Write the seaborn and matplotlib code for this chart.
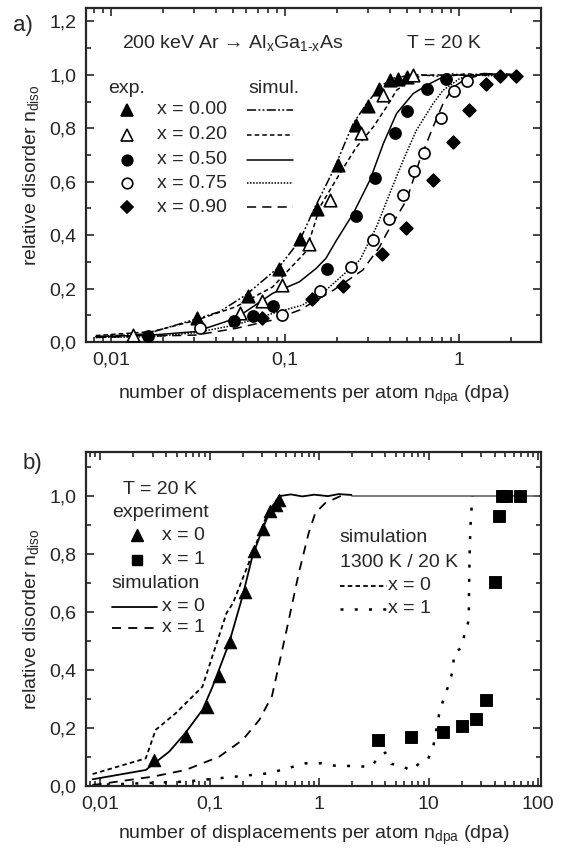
import numpy as np
import pandas as pd
import matplotlib
matplotlib.use("Agg")
import matplotlib.pyplot as plt
from matplotlib.ticker import FixedLocator, FixedFormatter, LogLocator, NullFormatter, MultipleLocator
from matplotlib.lines import Line2D
import seaborn as sns

# ---------------- panel a: experiment ----------------
exp_x000_dpa = [0.0311, 0.061, 0.0927, 0.122, 0.152, 0.203, 0.256, 0.301, 0.348, 0.401, 0.448, 0.50]
exp_x000_dis = [0.089, 0.172, 0.275, 0.384, 0.496, 0.664, 0.811, 0.882, 0.948, 0.982, 0.986, 0.99]
exp_x020_dpa = [0.0134, 0.0551, 0.0735, 0.0957, 0.138, 0.181, 0.273, 0.367, 0.546]
exp_x020_dis = [0.026, 0.107, 0.154, 0.213, 0.365, 0.531, 0.782, 0.923, 1.0]
exp_x050_dpa = [0.0164, 0.0512, 0.0658, 0.085, 0.174, 0.256, 0.329, 0.429, 0.50, 0.652, 0.841]
exp_x050_dis = [0.022, 0.080, 0.097, 0.135, 0.272, 0.471, 0.614, 0.782, 0.864, 0.948, 0.986]
exp_x075_dpa = [0.0325, 0.0957, 0.16, 0.239, 0.322, 0.398, 0.479, 0.553, 0.632, 0.788, 0.936, 1.107]
exp_x075_dis = [0.051, 0.101, 0.191, 0.279, 0.381, 0.46, 0.55, 0.639, 0.709, 0.84, 0.939, 0.976]
exp_x090_dpa = [0.0735, 0.144, 0.216, 0.359, 0.496, 0.711, 0.92, 1.146, 1.43, 1.72, 2.13]
exp_x090_dis = [0.089, 0.16, 0.209, 0.329, 0.427, 0.608, 0.749, 0.87, 0.967, 0.996, 0.996]

# ---------------- panel a: simulation ----------------
sim_x000_dpa = [0.0082, 0.0159, 0.0295, 0.042, 0.0597, 0.093, 0.122, 0.146, 0.19, 0.247, 0.295, 0.351, 0.41, 0.52,
                0.6, 0.75, 0.9, 1.1, 1.4, 1.8, 2.2]
sim_x000_dis = [0.02, 0.03, 0.082, 0.113, 0.176, 0.282, 0.381, 0.493, 0.643, 0.818, 0.892, 0.954, 0.986, 0.998,
                1.0, 0.995, 1.004, 0.997, 1.005, 1.0, 1.003]
sim_x020_dpa = [0.0082, 0.0173, 0.0308, 0.0523, 0.085, 0.132, 0.159, 0.207, 0.258, 0.322, 0.384, 0.438, 0.52, 0.62,
                0.75, 0.9, 1.1, 1.4, 1.8, 2.2]
sim_x020_dis = [0.024, 0.039, 0.081, 0.132, 0.206, 0.338, 0.506, 0.631, 0.73, 0.805, 0.88, 0.942, 0.979, 0.998,
                1.0, 0.996, 1.004, 0.998, 1.003, 1.0]
sim_x050_dpa = [0.0082, 0.0173, 0.0308, 0.0523, 0.085, 0.121, 0.151, 0.172, 0.198, 0.247, 0.308, 0.368, 0.438, 0.546,
                0.68, 0.81, 0.95, 1.2, 1.5, 1.9, 2.2]
sim_x050_dis = [0.02, 0.026, 0.039, 0.089, 0.182, 0.225, 0.275, 0.313, 0.381, 0.481, 0.606, 0.743, 0.855, 0.93,
                0.967, 0.992, 1.0, 0.996, 1.004, 0.998, 1.002]
sim_x075_dpa = [0.0082, 0.0173, 0.0308, 0.0523, 0.085, 0.126, 0.172, 0.27, 0.336, 0.40, 0.478, 0.57, 0.71, 0.81,
                1.01, 1.2, 1.5, 1.8, 2.2]
sim_x075_dis = [0.017, 0.02, 0.035, 0.064, 0.107, 0.138, 0.194, 0.307, 0.431, 0.556, 0.68, 0.793, 0.892, 0.942,
                0.986, 1.0, 0.996, 1.003, 1.0]
sim_x090_dpa = [0.0082, 0.0308, 0.0523, 0.085, 0.122, 0.19, 0.28, 0.35, 0.384, 0.50, 0.595, 0.71, 0.81, 0.93,
                1.06, 1.3, 1.6, 2.0, 2.2]
sim_x090_dis = [0.017, 0.026, 0.051, 0.082, 0.12, 0.194, 0.269, 0.356, 0.406, 0.531, 0.68, 0.805, 0.892, 0.954,
                0.979, 0.998, 1.003, 0.997, 1.0]

# ---------------- panel b: experiment ----------------
expb_x0_dpa = [0.031, 0.0604, 0.0933, 0.122, 0.152, 0.21, 0.254, 0.307, 0.356, 0.40, 0.43]
expb_x0_dis = [0.09, 0.172, 0.273, 0.379, 0.495, 0.667, 0.81, 0.885, 0.946, 0.969, 0.986]
expb_x1_dpa = [3.44, 6.85, 13.5, 20.3, 26.9, 33.6, 40.6, 43.9, 47.1, 51.3, 67.8]
expb_x1_dis = [0.159, 0.170, 0.185, 0.207, 0.23, 0.297, 0.701, 0.929, 1.0, 1.0, 1.0]

# ---------------- panel b: simulation, 20 K ----------------
simb_x0_dpa = [0.0085, 0.026, 0.0425, 0.06, 0.0857, 0.106, 0.15, 0.199, 0.245, 0.302, 0.36, 0.43,
               0.55, 0.7, 0.9, 1.2, 1.5, 1.97]
simb_x0_dis = [0.023, 0.055, 0.118, 0.183, 0.262, 0.342, 0.492, 0.653, 0.791, 0.883, 0.952, 0.998,
               1.004, 0.997, 1.003, 0.998, 1.005, 1.002]
simb_x1_dpa = [0.0085, 0.03, 0.06, 0.122, 0.2, 0.284, 0.37, 0.49, 0.65, 0.8, 0.92, 1.14, 1.4, 1.6]
simb_x1_dis = [0.003, 0.032, 0.055, 0.101, 0.159, 0.228, 0.31, 0.517, 0.733, 0.871, 0.94, 0.975, 0.99, 1.0]

# ---------------- panel b: simulation, 1300 K / 20 K ----------------
simh_x0_dpa = [0.0085, 0.026, 0.032, 0.049, 0.0857, 0.142, 0.163, 0.215, 0.26, 0.32, 0.39, 0.45]
simh_x0_dis = [0.041, 0.095, 0.193, 0.251, 0.342, 0.595, 0.63, 0.745, 0.825, 0.917, 0.975, 1.0]
simh_x1_dpa = [0.0085, 0.06, 0.17, 0.35, 0.75, 1.05, 1.38, 1.83, 2.35, 3.0, 3.5, 4.0, 4.55, 5.6, 6.9, 8.2, 9.8,
               11.0, 12.5, 13.6, 15.0, 16.7, 17.0, 19.8, 21.2, 22.4, 23.2, 23.4, 23.7, 24.2, 25.1]
simh_x1_dis = [0.003, 0.015, 0.032, 0.044, 0.078, 0.078, 0.07, 0.069, 0.067, 0.067, 0.101, 0.115, 0.076, 0.07,
               0.053, 0.078, 0.09, 0.136, 0.251, 0.297, 0.342, 0.4, 0.458, 0.475, 0.521, 0.55, 0.572, 0.71, 0.825,
               0.917, 0.998]

# saturation level
sat_dpa = [1.97, 100.0]
sat_dis = [1.0, 1.0]

# ---------------- axis tick labels ----------------
xticks_a = [0.01, 0.1, 1]
xlabels_a = ["0,01", "0,1", "1"]
xticks_b = [0.01, 0.1, 1, 10, 100]
xlabels_b = ["0,01", "0,1", "1", "10", "100"]
yticks_a = [0.0, 0.2, 0.4, 0.6, 0.8, 1.0, 1.2]
ylabels_a = ["0,0", "0,2", "0,4", "0,6", "0,8", "1,0", "1,2"]
yticks_b = [0.0, 0.2, 0.4, 0.6, 0.8, 1.0]
ylabels_b = ["0,0", "0,2", "0,4", "0,6", "0,8", "1,0"]

comp_a = ["x = 0.00", "x = 0.20", "x = 0.50", "x = 0.75", "x = 0.90"]

# ---------------- style ----------------
sns.set_style("ticks")
plt.rcParams["font.family"] = ["Liberation Sans", "DejaVu Sans"]
plt.rcParams["mathtext.fontset"] = "custom"
plt.rcParams["mathtext.rm"] = "Liberation Sans"
plt.rcParams["mathtext.it"] = "Liberation Sans"
plt.rcParams["axes.linewidth"] = 1.6
FS = 14

fig = plt.figure(figsize=(5.64, 8.52), dpi=100)
ax_a = fig.add_axes([0.1525, 0.5986, 0.8067, 0.392])
ax_b = fig.add_axes([0.1525, 0.0775, 0.8067, 0.392])

styles_a = [
    dict(marker="^", mfc="black", ls=(0, (6, 1.5, 1.2, 1.5, 1.2, 1.5)), ms=9),
    dict(marker="^", mfc="white", ls=(0, (3, 2)), ms=9),
    dict(marker="o", mfc="black", ls="-", ms=8),
    dict(marker="o", mfc="white", ls=(0, (1, 1)), ms=8),
    dict(marker="D", mfc="black", ls=(0, (6, 4)), ms=6.5),
]
exp_sets = [(exp_x000_dpa, exp_x000_dis), (exp_x020_dpa, exp_x020_dis), (exp_x050_dpa, exp_x050_dis),
            (exp_x075_dpa, exp_x075_dis), (exp_x090_dpa, exp_x090_dis)]
sim_sets = [(sim_x000_dpa, sim_x000_dis), (sim_x020_dpa, sim_x020_dis), (sim_x050_dpa, sim_x050_dis),
            (sim_x075_dpa, sim_x075_dis), (sim_x090_dpa, sim_x090_dis)]

for (sx, sy), st in zip(sim_sets, styles_a):
    df = pd.DataFrame({"dpa": sx, "dis": sy})
    sns.lineplot(data=df, x="dpa", y="dis", ax=ax_a, color="black", lw=1.1, sort=False,
                 estimator=None, linestyle=st["ls"], zorder=2)
for (ex, ey), st in zip(exp_sets, styles_a):
    df = pd.DataFrame({"dpa": ex, "dis": ey})
    sns.scatterplot(data=df, x="dpa", y="dis", ax=ax_a, marker=st["marker"], s=st["ms"] ** 2,
                    color=st["mfc"], edgecolor="black", linewidth=1.2, zorder=3)

# panel b curves
for sx, sy, ls, lw in [(simb_x0_dpa, simb_x0_dis, "-", 1.3),
                       (simb_x1_dpa, simb_x1_dis, (0, (5, 4)), 1.3),
                       (simh_x0_dpa, simh_x0_dis, (0, (2.5, 1.8)), 1.3),
                       (simh_x1_dpa, simh_x1_dis, (0, (1.2, 4.5)), 1.8)]:
    df = pd.DataFrame({"dpa": sx, "dis": sy})
    sns.lineplot(data=df, x="dpa", y="dis", ax=ax_b, color="black", lw=lw, sort=False,
                 estimator=None, linestyle=ls, zorder=2)
sns.lineplot(data=pd.DataFrame({"dpa": sat_dpa, "dis": sat_dis}), x="dpa", y="dis", ax=ax_b,
             color="#666666", lw=1.2, estimator=None, zorder=1)
sns.scatterplot(data=pd.DataFrame({"dpa": expb_x0_dpa, "dis": expb_x0_dis}), x="dpa", y="dis", ax=ax_b,
                marker="^", s=81, color="black", edgecolor="black", zorder=3)
sns.scatterplot(data=pd.DataFrame({"dpa": expb_x1_dpa, "dis": expb_x1_dis}), x="dpa", y="dis", ax=ax_b,
                marker="s", s=64, color="black", edgecolor="black", zorder=3)

# ---------------- axes ----------------
xlab = r"number of displacements per atom n$_\mathregular{dpa}$ (dpa)"
ylab = r"relative disorder n$_\mathregular{diso}$"
for ax, xl, xt, xtl, yt, ytl, yl, lp in [
        (ax_a, (0.0072, 2.96), xticks_a, xlabels_a, yticks_a, ylabels_a, (0, 1.25), 11),
        (ax_b, (0.0074, 106), xticks_b, xlabels_b, yticks_b, ylabels_b, (0, 1.15), 8)]:
    ax.set_xscale("log")
    ax.set_xlim(*xl)
    ax.set_ylim(*yl)
    ax.xaxis.set_major_locator(FixedLocator(xt))
    ax.xaxis.set_major_formatter(FixedFormatter(xtl))
    ax.xaxis.set_minor_locator(LogLocator(base=10, subs=np.arange(2, 10)))
    ax.xaxis.set_minor_formatter(NullFormatter())
    ax.yaxis.set_major_locator(FixedLocator(yt))
    ax.yaxis.set_major_formatter(FixedFormatter(ytl))
    ax.yaxis.set_minor_locator(MultipleLocator(0.1))
    ax.tick_params(which="both", direction="in", top=True, right=True, labelsize=FS, width=1.2)
    ax.tick_params(which="major", length=6, pad=7)
    ax.tick_params(which="minor", length=3.5)
    ax.set_xlabel(xlab, fontsize=FS, labelpad=lp)
    ax.set_ylabel(ylab, fontsize=FS, labelpad=6)
    for sp in ax.spines.values():
        sp.set_visible(True)

# ---------------- annotations panel a ----------------
ta = ax_a.transAxes
ax_a.text(0.079, 0.895, "200 keV Ar \u2192 Al$_\\mathregular{x}$Ga$_\\mathregular{1\\text{-}x}$As",
          transform=ta, fontsize=FS, va="center", ha="left")
ax_a.text(0.787, 0.895, "T = 20 K", transform=ta, fontsize=FS, va="center", ha="center")
ax_a.text(0.09, 0.760, "exp.", transform=ta, fontsize=FS, va="center", ha="center")
ax_a.text(0.413, 0.760, "simul.", transform=ta, fontsize=FS, va="center", ha="center")
rows_a = [0.695, 0.620, 0.545, 0.476, 0.404]
for yy, lab, st in zip(rows_a, comp_a, styles_a):
    ax_a.add_line(Line2D([0.09], [yy], transform=ta, marker=st["marker"], ms=st["ms"] * 0.95,
                         mfc=st["mfc"], mec="black", mew=1.2, ls="none"))
    ax_a.text(0.156, yy, lab, transform=ta, fontsize=FS, va="center", ha="left")
    ax_a.add_line(Line2D([0.354, 0.455], [yy, yy], transform=ta, color="black", lw=1.1, ls=st["ls"]))

# ---------------- annotations panel b ----------------
tb = ax_b.transAxes
ax_b.text(0.163, 0.889, "T = 20 K", transform=tb, fontsize=FS, va="center", ha="center")
ax_b.text(0.163, 0.820, "experiment", transform=tb, fontsize=FS, va="center", ha="center")
ax_b.add_line(Line2D([0.112], [0.751], transform=tb, marker="^", ms=9, color="black", ls="none"))
ax_b.text(0.167, 0.751, "x = 0", transform=tb, fontsize=FS, va="center", ha="left")
ax_b.add_line(Line2D([0.112], [0.677], transform=tb, marker="s", ms=7, color="black", ls="none"))
ax_b.text(0.167, 0.677, "x = 1", transform=tb, fontsize=FS, va="center", ha="left")
ax_b.text(0.152, 0.605, "simulation", transform=tb, fontsize=FS, va="center", ha="center")
ax_b.add_line(Line2D([0.057, 0.156], [0.536, 0.536], transform=tb, color="black", lw=1.3, ls="-"))
ax_b.text(0.167, 0.536, "x = 0", transform=tb, fontsize=FS, va="center", ha="left")
ax_b.add_line(Line2D([0.057, 0.156], [0.473, 0.473], transform=tb, color="black", lw=1.3, ls=(0, (5, 4))))
ax_b.text(0.167, 0.473, "x = 1", transform=tb, fontsize=FS, va="center", ha="left")

ax_b.text(0.558, 0.743, "simulation", transform=tb, fontsize=FS, va="center", ha="left")
ax_b.text(0.558, 0.668, "1300 K / 20 K", transform=tb, fontsize=FS, va="center", ha="left")
ax_b.add_line(Line2D([0.558, 0.662], [0.599, 0.599], transform=tb, color="black", lw=1.3, ls=(0, (2.5, 1.8))))
ax_b.text(0.664, 0.599, "x = 0", transform=tb, fontsize=FS, va="center", ha="left")
ax_b.add_line(Line2D([0.558, 0.662], [0.530, 0.530], transform=tb, color="black", lw=1.8, ls=(0, (1.2, 4.5))))
ax_b.text(0.664, 0.530, "x = 1", transform=tb, fontsize=FS, va="center", ha="left")

fig.text(23 / 564, 1 - 25 / 852, "a)", fontsize=16, ha="center", va="center")
fig.text(32 / 564, 1 - 463 / 852, "b)", fontsize=16, ha="center", va="center")

fig.savefig("out.png", dpi=100)
